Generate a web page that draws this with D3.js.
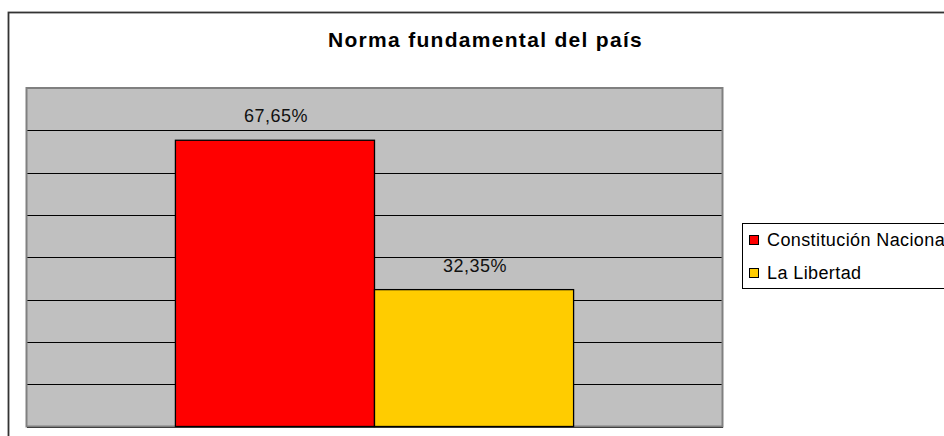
<!DOCTYPE html>
<html>
<head>
<meta charset="utf-8">
<script src="https://cdn.jsdelivr.net/npm/d3@7"></script>
<style>
  body { margin: 0; background: #fff; overflow: hidden; }
  text { font-family: Arial, "Liberation Sans", sans-serif; }
</style>
</head>
<body>
<div id="chart"></div>
<script>
// data
var title = "Norma fundamental del país";
var categories = [""];
var seriesNames = ["Constitución Nacional", "La Libertad"];
var seriesValues = [67.65, 32.35];
var seriesColors = ["#ff0000", "#ffcc00"];
var yTicks = [0, 10, 20, 30, 40, 50, 60, 70, 80];

var W = 944, H = 436;
var plot = { left: 26.5, top: 88, right: 722.5, bottom: 426.5 };

var svg = d3.select("#chart")
  .append("svg")
  .attr("width", W)
  .attr("height", H);

// outer chart border (runs off the right/bottom edge)
svg.append("rect")
  .attr("x", 8.5).attr("y", 12.5)
  .attr("width", 980).attr("height", 460)
  .attr("fill", "#fff")
  .attr("stroke", "#333")
  .attr("stroke-width", 1.8);

// title
svg.append("text")
  .attr("x", 485.5).attr("y", 46.5)
  .attr("text-anchor", "middle")
  .style("font-size", "21px")
  .style("font-weight", "bold")
  .style("letter-spacing", "1.3px")
  .text(title);

var y = d3.scaleLinear()
  .domain([0, d3.max(yTicks)])
  .range([plot.bottom, plot.top]);

var x0 = d3.scaleBand()
  .domain(categories)
  .range([plot.left, plot.right])
  .paddingInner(0)
  .paddingOuter(0.374);

var x1 = d3.scaleBand()
  .domain(seriesNames)
  .range([0, x0.bandwidth()]);

// plot area background
svg.append("rect")
  .attr("x", plot.left).attr("y", plot.top)
  .attr("width", plot.right - plot.left)
  .attr("height", plot.bottom - plot.top)
  .attr("fill", "#c0c0c0");

// horizontal gridlines
svg.append("g")
  .attr("transform", "translate(" + plot.left + ",0)")
  .call(d3.axisLeft(y)
    .tickValues(yTicks)
    .tickSize(-(plot.right - plot.left))
    .tickFormat(""))
  .call(function (g) { g.select(".domain").remove(); })
  .selectAll("line")
  .attr("stroke", "#000")
  .attr("stroke-width", 1)
  .attr("shape-rendering", "crispEdges");

// plot area border
svg.append("rect")
  .attr("x", plot.left).attr("y", plot.top)
  .attr("width", plot.right - plot.left)
  .attr("height", plot.bottom - plot.top)
  .attr("fill", "none")
  .attr("stroke", "#808080")
  .attr("stroke-width", 2);

var data = seriesNames.map(function (n, i) {
  return { cat: categories[0], name: n, value: seriesValues[i], color: seriesColors[i] };
});

// bars
svg.append("g")
  .selectAll("rect")
  .data(data)
  .enter()
  .append("rect")
  .attr("x", function (d) { return x0(d.cat) + x1(d.name); })
  .attr("y", function (d) { return y(d.value); })
  .attr("width", x1.bandwidth())
  .attr("height", function (d) { return y(0) - y(d.value); })
  .attr("fill", function (d) { return d.color; })
  .attr("stroke", "#000")
  .attr("stroke-width", 1.3);

// value labels
svg.append("g")
  .selectAll("text")
  .data(data)
  .enter()
  .append("text")
  .attr("x", function (d) { return x0(d.cat) + x1(d.name) + x1.bandwidth() / 2 + 1; })
  .attr("y", function (d) { return y(d.value) - 18; })
  .attr("text-anchor", "middle")
  .style("font-size", "18px")
  .style("letter-spacing", "0.5px")
  .style("fill", "#111")
  .text(function (d) { return d.value.toFixed(2).replace(".", ",") + "%"; });

// legend
var legend = svg.append("g");
legend.append("rect")
  .attr("x", 742.5).attr("y", 223.5)
  .attr("width", 260).attr("height", 65)
  .attr("fill", "#fff")
  .attr("stroke", "#000")
  .attr("stroke-width", 1);

var item = legend.selectAll("g.item")
  .data(data)
  .enter()
  .append("g")
  .attr("class", "item")
  .attr("transform", function (d, i) { return "translate(0," + (i * 33) + ")"; });

item.append("rect")
  .attr("x", 749.5).attr("y", 235.5)
  .attr("width", 9).attr("height", 9)
  .attr("fill", function (d) { return d.color; })
  .attr("stroke", "#000")
  .attr("stroke-width", 1);

item.append("text")
  .attr("x", 767).attr("y", 246)
  .style("font-size", "18px")
  .style("letter-spacing", "0.4px")
  .text(function (d) { return d.name; });
</script>
</body>
</html>
